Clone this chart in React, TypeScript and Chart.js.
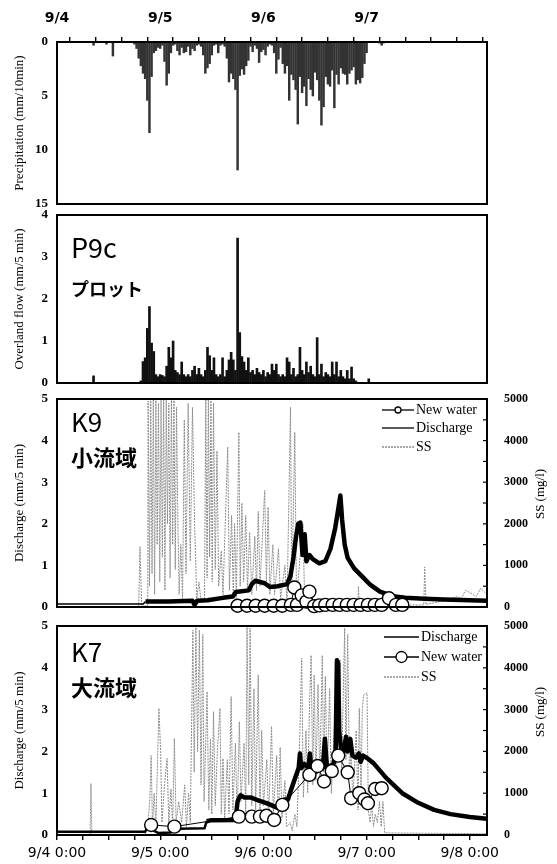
import React, { useEffect, useRef } from 'react';
import { Chart, registerables } from 'chart.js';

Chart.register(...registerables);

// ---------------- data ----------------
const topDayLabels = ['9/4', '9/5', '9/6', '9/7'];
const bottomDayLabels = ['9/4 0:00', '9/5 0:00', '9/6 0:00', '9/7 0:00', '9/8 0:00'];
const xTickHours = [0, 6, 12, 18, 24, 30, 36, 42, 48, 54, 60, 66, 72, 78, 84, 90, 96];
const xAxisMaxHours = 100;
const precipTicks = [0, 5, 10, 15];
const overlandTicks = [0, 1, 2, 3, 4];
const dischargeTicks = [0, 1, 2, 3, 4, 5];
const ssTicks = [0, 1000, 2000, 3000, 4000, 5000];
const ssMinorTicks = [500, 1000, 1500, 2000, 2500, 3000, 3500, 4000, 4500];

// Precipitation (mm/10min), half-hour samples from 9/4 08:00
const precipStartHour = 8;
const precipStepHours = 0.5;
const precipValues = [
  0, 0.3, 0, 0, 0, 0, 0, 0.2,
  0, 0, 1.3, 0, 0, 0, 0, 0,
  0, 0, 0, 0, 0.2, 0.6, 1.5, 2.2,
  2.9, 3.4, 5.4, 8.4, 3.2, 1.0, 0.8, 0.5,
  0.6, 0.3, 1.8, 4.0, 2.9, 1.0, 0.3, 0.2,
  0.8, 1.2, 0.5, 1.0, 0.9, 0.4, 1.2, 0.6,
  0.8, 0.3, 0.2, 0.4, 1.2, 2.9, 2.4, 2.0,
  1.2, 0.3, 0.2, 1.0, 0.3, 0.2, 0.4, 1.5,
  3.7, 2.9, 3.4, 4.4, 11.85, 3.1, 2.5, 3.0,
  2.2, 1.7, 0.4, 0.9, 0.3, 0.6, 1.9, 0.9,
  0.7, 1.2, 0.4, 0.2, 0.3, 1.0, 2.9, 1.6,
  0.5, 2.0, 2.9, 2.2, 5.4, 3.0, 3.5, 4.4,
  7.6, 3.2, 4.7, 4.1, 5.9, 3.4, 4.4, 5.0,
  2.8, 3.5, 5.4, 7.7, 6.0, 3.2, 3.9, 4.1,
  2.6, 6.1, 3.0, 3.9, 2.4, 2.9, 3.0, 3.9,
  2.9, 2.6, 2.3, 3.9, 3.5, 3.8, 3.3, 2.0,
  1.0, 0, 0, 0, 0, 0, 0.1, 0.3,
  0.1,
];

// Overland flow P9c (mm/5 min), half-hour samples from 9/4 08:00
const overlandStartHour = 8;
const overlandStepHours = 0.5;
const overlandValues = [
  0, 0.17, 0, 0, 0, 0, 0, 0,
  0, 0, 0, 0, 0, 0, 0, 0,
  0, 0, 0, 0, 0, 0, 0, 0.05,
  0.51, 0.6, 1.3, 1.82, 0.95, 0.75, 0.2, 0.15,
  0.2, 0.18, 0.15, 0.4, 0.85, 0.6, 1.0, 0.3,
  0.25, 0.2, 0.5, 0.2, 0.15, 0.2, 0.15, 0.3,
  0.4, 0.2, 0.35, 0.2, 0.15, 0.3, 0.85, 0.65,
  0.3, 0.6, 0.2, 0.15, 0.2, 0.6, 0.15, 0.3,
  0.55, 0.73, 0.55, 0.3, 3.45, 1.2, 0.63, 0.5,
  0.3, 0.6, 0.25, 0.3, 0.2, 0.35, 0.25, 0.2,
  0.3, 0.15, 0.25, 0.2, 0.45, 0.3, 0.45, 0.2,
  0.15, 0.2, 0.15, 0.6, 0.5, 0.2, 0.35, 0.15,
  0.2, 0.85, 0.3, 0.2, 0.5, 0.25, 0.4, 0.2,
  0.15, 1.08, 0.2, 0.45, 0.15, 0.25, 0.2, 0.15,
  0.5, 0.2, 0.5, 0.15, 0.3, 0.15, 0.1, 0.3,
  0.1, 0.38, 0.1, 0.05, 0, 0, 0, 0,
  0, 0.1, 0, 0, 0, 0, 0, 0,
];

// K9 [hour since 9/4 0:00, value]
const k9Discharge: [number, number][] = [
  [0, 0.07], [20, 0.07], [20.6, 0.13], [26, 0.13], [31.5, 0.15], [32, 0.05], [32.6, 0.15],
  [35, 0.16], [38.6, 0.22], [40.9, 0.25], [41.6, 0.36], [44.6, 0.4], [45.3, 0.55], [46.1, 0.63],
  [48.3, 0.57], [49.5, 0.48], [51.3, 0.5], [53.5, 0.55], [54.3, 0.75], [55, 1.2], [55.6, 1.7],
  [56.1, 2.0], [56.6, 2.03], [57.1, 1.25], [57.4, 1.45], [57.6, 1.75], [58, 1.1], [58.7, 1.25],
  [59.5, 1.15], [61, 1.05], [62.4, 1.1], [63.6, 1.4], [64.7, 1.9], [65.4, 2.35], [65.9, 2.68],
  [66.3, 2.1], [66.9, 1.5], [67.6, 1.18], [69.1, 0.93], [71, 0.73], [72.9, 0.53], [75.1, 0.37],
  [78.1, 0.26], [81, 0.22], [85.5, 0.2], [90, 0.18], [96, 0.16], [100, 0.15],
];
const k9NewWater: [number, number][] = [
  [42, 0.03], [44.2, 0.03], [46.2, 0.03], [48.3, 0.03], [50.4, 0.03], [52.4, 0.03], [54.4, 0.05],
  [55.2, 0.47], [55.8, 0.05], [56.9, 0.28], [58, 0.13], [58.7, 0.37], [59.8, 0.02], [61, 0.04],
  [62.4, 0.05], [64.1, 0.05], [65.7, 0.05], [67.4, 0.05], [69, 0.05], [70.6, 0.05], [72.3, 0.05],
  [73.9, 0.05], [75.5, 0.05], [77.2, 0.21], [78.8, 0.05], [80.3, 0.05],
];
const k9SS: [number, number][] = [
  [0, 10], [19, 10], [19.3, 1450], [19.7, 20], [21.1, 30], [21.2, 4950], [21.5, 500], [21.8, 5000],
  [22.1, 800], [22.4, 5000], [22.7, 300], [23, 5000], [23.3, 1500], [23.6, 4900], [23.9, 600],
  [24.2, 5000], [24.5, 1200], [24.8, 5000], [25.1, 400], [25.4, 5000], [25.7, 2000], [26, 4900],
  [26.3, 700], [26.6, 5000], [26.9, 1500], [27.2, 5000], [27.5, 900], [27.8, 4800], [28.1, 2150],
  [28.4, 300], [28.8, 1500], [29.2, 200], [29.6, 4500], [30, 800], [30.5, 4900], [31, 1100],
  [31.5, 4800], [32, 2000], [32.5, 200], [33, 600], [33.5, 150], [34.3, 200], [34.6, 5000],
  [34.9, 700], [35.2, 5000], [35.5, 1200], [35.8, 5000], [36.1, 600], [36.4, 4900], [36.8, 900],
  [37.2, 3750], [37.6, 500], [38.2, 1350], [38.6, 300], [39.7, 3850], [40.1, 400], [40.6, 2200],
  [41, 300], [41.3, 2000], [41.7, 200], [42.3, 4200], [42.6, 500], [43, 2500], [43.4, 600],
  [43.9, 2200], [44.3, 400], [44.8, 1800], [45.3, 300], [46, 1700], [46.4, 400], [46.8, 2300],
  [47.2, 500], [48.3, 2800], [48.7, 600], [49.1, 2400], [49.5, 300], [50.2, 1500], [50.6, 300],
  [51.5, 1400], [52, 200], [53, 1000], [53.5, 100], [54.3, 4800], [54.6, 300], [55.3, 4200],
  [55.7, 200], [57.2, 2000], [57.6, 100], [58.5, 200], [60, 50], [70, 60], [70.1, 500],
  [70.3, 40], [85.3, 50], [85.5, 960], [85.8, 60], [90, 150], [93, 250], [94, 200], [95, 400],
  [96, 350], [97.5, 250], [98.5, 450], [100, 300],
];

// K7 [hour since 9/4 0:00, value]
const k7Discharge: [number, number][] = [
  [0, 0.08], [20.5, 0.08], [21.2, 0.2], [22, 0.22], [22.6, 0.1], [23.5, 0.05], [26.5, 0.06],
  [27, 0.15], [27.6, 0.1], [28.2, 0.15], [34.3, 0.16], [34.8, 0.33], [35.7, 0.35], [41.5, 0.36],
  [42, 0.8], [42.3, 0.88], [42.7, 0.95], [43.5, 0.9], [45, 0.9], [47, 0.82], [49, 0.75],
  [51.3, 0.65], [52.4, 0.6], [52.9, 0.85], [53.7, 0.85], [54.5, 1.1], [55.5, 1.4], [56.2, 1.6],
  [56.5, 1.95], [56.8, 1.6], [57.5, 1.7], [58.5, 1.6], [58.8, 1.95], [59.2, 1.55], [60, 1.5],
  [61, 1.55], [61.8, 1.6], [62.3, 2.3], [62.8, 1.6], [63.5, 1.65], [64.3, 1.7], [64.8, 2.0],
  [65.1, 4.18], [65.4, 4.1], [65.6, 2.5], [66, 2.1], [66.7, 2.0], [67.2, 2.35], [67.6, 2.0],
  [68.2, 2.3], [68.7, 1.9], [69.5, 1.85], [70.2, 1.95], [70.6, 1.75], [71.2, 1.9], [72.1, 1.84],
  [73.6, 1.72], [76.6, 1.36], [80.3, 1.0], [84, 0.77], [87.7, 0.6], [91.5, 0.5], [96, 0.43],
  [100, 0.39],
];
const k7NewWater: [number, number][] = [
  [21.9, 0.24], [27.3, 0.2], [42.3, 0.44], [45.3, 0.44], [47.2, 0.44], [48.7, 0.46], [50.5, 0.36],
  [52.4, 0.72], [58.7, 1.44], [60.6, 1.65], [62.1, 1.28], [63.9, 1.53], [65.4, 1.9], [67.6, 1.5],
  [68.4, 0.88], [70.3, 1.0], [71.5, 0.85], [72.3, 0.76], [74, 1.1], [75.5, 1.12],
];
const k7SS: [number, number][] = [
  [0, 10], [7.7, 10], [7.9, 1230], [8.1, 10], [20.5, 10], [21.2, 300], [21.6, 900], [21.9, 1900],
  [22.2, 200], [22.6, 1000], [23, 200], [23.7, 3030], [24.1, 1990], [24.4, 300], [25, 1200],
  [25.6, 1830], [26, 300], [26.5, 1100], [26.9, 200], [27.3, 2310], [27.7, 300], [28.3, 800],
  [29, 300], [29.7, 1200], [30.1, 200], [30.6, 1000], [31, 300], [31.6, 4900], [31.9, 1500],
  [32.3, 5000], [32.7, 2000], [33.1, 4900], [33.5, 1200], [33.9, 4800], [34.2, 800], [34.9, 3430],
  [35.3, 600], [35.7, 2300], [36, 500], [36.4, 2950], [36.8, 700], [37.3, 2000], [37.9, 3030],
  [38.2, 500], [38.6, 1830], [39, 400], [39.6, 1800], [40, 500], [40.5, 3310], [40.9, 600],
  [41.5, 2200], [41.9, 300], [42.4, 2710], [42.8, 800], [43.5, 2200], [43.9, 500], [44.2, 5000],
  [44.6, 1200], [44.9, 4950], [45.3, 700], [45.8, 3500], [46.2, 600], [46.8, 3830], [47.2, 400],
  [47.6, 2500], [48, 700], [48.8, 1800], [49.2, 400], [49.9, 2600], [50.3, 500], [51.1, 1900],
  [51.5, 300], [51.9, 2100], [52.3, 400], [53, 1300], [53.4, 200], [54.2, 300], [54.7, 100],
  [55.3, 500], [55.8, 200], [56.5, 2500], [56.9, 4230], [57.3, 900], [57.9, 2500], [58.3, 1000],
  [58.7, 3000], [59.1, 4300], [59.5, 1200], [59.8, 3830], [60.2, 1300], [60.7, 3600], [61.1, 1300],
  [61.7, 4300], [62, 1500], [62.4, 3800], [62.8, 1200], [63.4, 3500], [63.8, 1000], [64.6, 2800],
  [65, 1400], [65.8, 4200], [66.2, 1600], [66.9, 4950], [67.2, 1800], [67.6, 4800], [68, 1500],
  [68.4, 2000], [68.8, 800], [69.6, 2500], [70, 600], [70.3, 3030], [70.7, 1000], [71, 3000],
  [71.3, 3350], [72.1, 3400], [72.4, 600], [72.8, 300], [73.2, 700], [73.6, 200], [74, 500],
  [74.5, 300], [75, 800], [75.4, 200], [75.8, 800], [76.2, 50], [100, 30],
];

// ---------------- layout ----------------
const W = 557;
const PLOT_LEFT = 57;
const PLOT_RIGHT = 487;
const SERIF = "'Liberation Serif', 'Times New Roman', serif";
const SANS = "'DejaVu Sans', 'Liberation Sans', sans-serif";
const JP = "'Noto Sans CJK JP', 'Noto Sans', sans-serif";

const seq = (start: number, step: number, values: number[]) =>
  values.map((v, i) => ({ x: start + i * step, y: v }));
const pairs = (arr: [number, number][]) => arr.map(([x, y]) => ({ x, y }));

// ---------------- plugins ----------------
const framePlugin = {
  id: 'frame',
  afterDraw(chart: any) {
    const { ctx, chartArea: a } = chart;
    ctx.save();
    ctx.strokeStyle = '#000';
    ctx.lineWidth = 2;
    ctx.strokeRect(a.left, a.top, a.right - a.left, a.bottom - a.top);
    ctx.restore();
  },
};

const innerTicksPlugin = {
  id: 'innerTicks',
  afterDraw(chart: any, _args: any, opts: any) {
    const items = (opts && opts.items) || [];
    const { ctx, chartArea: a } = chart;
    ctx.save();
    ctx.strokeStyle = '#000';
    ctx.lineWidth = 1.2;
    for (const it of items) {
      const s = chart.scales[it.scaleId];
      if (!s) continue;
      for (const v of it.values) {
        const y = s.getPixelForValue(v);
        const x0 = it.side === 'left' ? a.left : a.right;
        const dx = it.side === 'left' ? it.length : -it.length;
        ctx.beginPath();
        ctx.moveTo(x0, y);
        ctx.lineTo(x0 + dx, y);
        ctx.stroke();
      }
    }
    ctx.restore();
  },
};

const textNotesPlugin = {
  id: 'textNotes',
  afterDraw(chart: any, _args: any, opts: any) {
    const items = (opts && opts.items) || [];
    const ctx = chart.ctx;
    for (const it of items) {
      ctx.save();
      ctx.font = it.font;
      ctx.fillStyle = '#000';
      ctx.textAlign = it.align || 'left';
      ctx.textBaseline = it.baseline || 'alphabetic';
      ctx.translate(it.x, it.y);
      if (it.rotate) ctx.rotate(it.rotate);
      ctx.fillText(it.text, 0, 0);
      ctx.restore();
    }
  },
};

const seriesLegendPlugin = {
  id: 'seriesLegend',
  afterDraw(chart: any, _args: any, opts: any) {
    if (!opts || !opts.items) return;
    const ctx = chart.ctx;
    ctx.save();
    ctx.font = opts.font;
    ctx.textBaseline = 'middle';
    ctx.textAlign = 'left';
    for (const it of opts.items) {
      ctx.beginPath();
      ctx.lineWidth = it.width;
      ctx.strokeStyle = it.color;
      ctx.setLineDash(it.dash || []);
      ctx.moveTo(opts.x1, it.y);
      ctx.lineTo(opts.x2, it.y);
      ctx.stroke();
      ctx.setLineDash([]);
      if (it.marker) {
        ctx.beginPath();
        ctx.arc((opts.x1 + opts.x2) / 2, it.y, it.marker, 0, Math.PI * 2);
        ctx.fillStyle = '#fff';
        ctx.fill();
        ctx.lineWidth = 1.3;
        ctx.strokeStyle = '#000';
        ctx.stroke();
      }
      ctx.fillStyle = '#000';
      ctx.fillText(it.label, opts.textX, it.y);
    }
    ctx.restore();
  },
};

Chart.register(framePlugin, innerTicksPlugin, textNotesPlugin, seriesLegendPlugin);
Chart.defaults.font.family = SERIF;
Chart.defaults.color = '#000';

// ---------------- axis helpers ----------------
function leftAxis(min: number, max: number, ticksArr: number[], title: string, reverse = false) {
  return {
    type: 'linear',
    position: 'left',
    min,
    max,
    reverse,
    afterBuildTicks: (s: any) => {
      s.ticks = ticksArr.map((v) => ({ value: v }));
    },
    afterFit: (s: any) => {
      s.width = PLOT_LEFT;
    },
    ticks: {
      padding: 0,
      color: '#000',
      font: { family: SERIF, size: 13, weight: 'bold' },
      callback: (v: any) => String(v),
    },
    grid: { display: false, drawTicks: true, tickLength: 9 },
    border: { display: false },
    title: {
      display: true,
      text: title,
      color: '#000',
      font: { family: SERIF, size: 13 },
      padding: { top: 12, bottom: 0 },
    },
  };
}

function rightSSAxis() {
  return {
    type: 'linear',
    position: 'right',
    min: 0,
    max: 5000,
    afterBuildTicks: (s: any) => {
      s.ticks = ssTicks.map((v) => ({ value: v }));
    },
    afterFit: (s: any) => {
      s.width = W - PLOT_RIGHT;
    },
    ticks: {
      padding: 0,
      color: '#000',
      font: { family: SERIF, size: 12, weight: 'bold' },
      callback: (v: any) => String(v),
    },
    grid: { display: false, drawTicks: true, tickLength: 17 },
    border: { display: false },
  };
}

function hiddenX() {
  return { type: 'linear', min: 0, max: xAxisMaxHours, offset: false, display: false };
}

function dayAxis(position: 'top' | 'bottom', height: number, labels: string[], font: any, padding: number) {
  return {
    type: 'linear',
    position,
    min: 0,
    max: xAxisMaxHours,
    offset: false,
    afterBuildTicks: (s: any) => {
      s.ticks = xTickHours.map((v) => ({ value: v }));
    },
    afterFit: (s: any) => {
      s.height = height;
    },
    ticks: {
      autoSkip: false,
      maxRotation: 0,
      minRotation: 0,
      padding,
      color: '#000',
      font,
      callback: (v: any) => (v % 24 === 0 && labels[v / 24] !== undefined ? labels[v / 24] : ''),
    },
    grid: { display: true, drawOnChartArea: false, drawTicks: true, tickLength: 5, color: '#000', lineWidth: 1.4 },
    border: { display: false },
  };
}

const basePlugins = {
  legend: { display: false },
  tooltip: { enabled: false },
};

// ---------------- component ----------------
const C1 = { top: 0, height: 214 };
const C2 = { top: 204, height: 190 };
const C3 = { top: 390, height: 226 };
const C4 = { top: 612, height: 252 };

export default function App() {
  const r1 = useRef<HTMLCanvasElement>(null);
  const r2 = useRef<HTMLCanvasElement>(null);
  const r3 = useRef<HTMLCanvasElement>(null);
  const r4 = useRef<HTMLCanvasElement>(null);

  useEffect(() => {
    const charts: Chart[] = [];

    // Panel 1: precipitation
    charts.push(
      new Chart(r1.current as HTMLCanvasElement, {
        type: 'bar',
        data: {
          datasets: [
            {
              data: seq(precipStartHour, precipStepHours, precipValues),
              backgroundColor: '#333',
              borderWidth: 0,
              barThickness: 1.8,
            } as any,
          ],
        },
        options: {
          animation: false,
          responsive: false,
          events: [],
          layout: { autoPadding: false, padding: { left: 0, right: W - PLOT_RIGHT, top: 0, bottom: C1.height - 204 } },
          plugins: { ...basePlugins } as any,
          scales: {
            x: dayAxis('top', 42, topDayLabels, { family: SANS, size: 14, weight: 'bold' }, 10) as any,
            y: leftAxis(0, 15, precipTicks, 'Precipitation (mm/10min)', true) as any,
          },
        } as any,
      })
    );

    // Panel 2: overland flow
    charts.push(
      new Chart(r2.current as HTMLCanvasElement, {
        type: 'bar',
        data: {
          datasets: [
            {
              data: seq(overlandStartHour, overlandStepHours, overlandValues),
              backgroundColor: '#111',
              borderWidth: 0,
              barThickness: 2,
            } as any,
          ],
        },
        options: {
          animation: false,
          responsive: false,
          events: [],
          layout: { autoPadding: false, padding: { left: 0, right: W - PLOT_RIGHT, top: 215 - C2.top, bottom: C2.top + C2.height - 383 } },
          plugins: {
            ...basePlugins,
            textNotes: {
              items: [
                { text: 'P9c', x: 71, y: 258 - C2.top, font: `27px ${JP}` },
                { text: 'プロット', x: 71, y: 296 - C2.top, font: `bold 18px ${JP}` },
              ],
            },
          } as any,
          scales: {
            x: hiddenX() as any,
            y: leftAxis(0, 4, overlandTicks, 'Overland flow (mm/5 min)') as any,
          },
        } as any,
      })
    );

    // Panel 3: K9
    charts.push(
      new Chart(r3.current as HTMLCanvasElement, {
        type: 'line',
        data: {
          datasets: [
            {
              label: 'New water',
              data: pairs(k9NewWater),
              yAxisID: 'y',
              borderColor: '#000',
              borderWidth: 1,
              pointRadius: 6.5,
              pointBackgroundColor: '#fff',
              pointBorderColor: '#000',
              pointBorderWidth: 1.4,
              order: 0,
              clip: false,
            } as any,
            {
              label: 'Discharge',
              data: pairs(k9Discharge),
              yAxisID: 'y',
              borderColor: '#000',
              borderWidth: 4.5,
              borderJoinStyle: 'round',
              pointRadius: 0,
              order: 1,
              segment: { borderWidth: (c: any) => (c.p1.parsed.x <= 20.6 ? 1.5 : 4.5) },
            } as any,
            {
              label: 'SS',
              data: pairs(k9SS),
              yAxisID: 'y2',
              borderColor: '#8c8c8c',
              borderWidth: 1,
              borderDash: [2, 1],
              borderJoinStyle: 'bevel',
              pointRadius: 0,
              order: 2,
            } as any,
          ],
        },
        options: {
          animation: false,
          responsive: false,
          events: [],
          layout: { autoPadding: false, padding: { left: 0, right: 0, top: 399 - C3.top, bottom: C3.top + C3.height - 607 } },
          plugins: {
            ...basePlugins,
            innerTicks: { items: [{ scaleId: 'y2', values: ssMinorTicks, side: 'right', length: 4 }] },
            textNotes: {
              items: [
                { text: 'K9', x: 71, y: 432 - C3.top, font: `26px ${JP}` },
                { text: '小流域', x: 71, y: 466 - C3.top, font: `bold 22px ${JP}` },
                { text: 'SS (mg/l)', x: 541, y: 494 - C3.top, font: `13px ${SERIF}`, align: 'center', baseline: 'middle', rotate: -Math.PI / 2 },
              ],
            },
            seriesLegend: {
              x1: 382,
              x2: 414,
              textX: 416,
              font: `14px ${SERIF}`,
              items: [
                { label: 'New water', y: 410 - C3.top, width: 1.3, color: '#000', marker: 3 },
                { label: 'Discharge', y: 428 - C3.top, width: 1.3, color: '#000' },
                { label: 'SS', y: 447 - C3.top, width: 1, color: '#555', dash: [2, 1] },
              ],
            },
          } as any,
          scales: {
            x: hiddenX() as any,
            y: leftAxis(0, 5, dischargeTicks, 'Discharge (mm/5 min)') as any,
            y2: rightSSAxis() as any,
          },
        } as any,
      })
    );

    // Panel 4: K7
    charts.push(
      new Chart(r4.current as HTMLCanvasElement, {
        type: 'line',
        data: {
          datasets: [
            {
              label: 'New water',
              data: pairs(k7NewWater),
              yAxisID: 'y',
              borderColor: '#000',
              borderWidth: 1,
              pointRadius: 6.5,
              pointBackgroundColor: '#fff',
              pointBorderColor: '#000',
              pointBorderWidth: 1.4,
              order: 0,
              clip: false,
            } as any,
            {
              label: 'Discharge',
              data: pairs(k7Discharge),
              yAxisID: 'y',
              borderColor: '#000',
              borderWidth: 4.5,
              borderJoinStyle: 'round',
              pointRadius: 0,
              order: 1,
              segment: { borderWidth: (c: any) => (c.p1.parsed.x <= 34.8 ? 2.5 : 4.5) },
            } as any,
            {
              label: 'SS',
              data: pairs(k7SS),
              yAxisID: 'y2',
              borderColor: '#8c8c8c',
              borderWidth: 1,
              borderDash: [2, 1],
              borderJoinStyle: 'bevel',
              pointRadius: 0,
              order: 2,
            } as any,
          ],
        },
        options: {
          animation: false,
          responsive: false,
          events: [],
          layout: { autoPadding: false, padding: { left: 0, right: 0, top: 626 - C4.top, bottom: 0 } },
          plugins: {
            ...basePlugins,
            innerTicks: { items: [{ scaleId: 'y2', values: ssMinorTicks, side: 'right', length: 4 }] },
            textNotes: {
              items: [
                { text: 'K7', x: 71, y: 662 - C4.top, font: `26px ${JP}` },
                { text: '大流域', x: 71, y: 696 - C4.top, font: `bold 22px ${JP}` },
                { text: 'SS (mg/l)', x: 541, y: 712 - C4.top, font: `13px ${SERIF}`, align: 'center', baseline: 'middle', rotate: -Math.PI / 2 },
              ],
            },
            seriesLegend: {
              x1: 384,
              x2: 419,
              textX: 421,
              font: `14px ${SERIF}`,
              items: [
                { label: 'Discharge', y: 637 - C4.top, width: 1.3, color: '#000' },
                { label: 'New water', y: 657 - C4.top, width: 1.3, color: '#000', marker: 5.5 },
                { label: 'SS', y: 677 - C4.top, width: 1, color: '#555', dash: [2, 1] },
              ],
            },
          } as any,
          scales: {
            x: dayAxis('bottom', 29, bottomDayLabels, { family: SANS, size: 14 }, 5) as any,
            y: leftAxis(0, 5, dischargeTicks, 'Discharge (mm/5 min)') as any,
            y2: rightSSAxis() as any,
          },
        } as any,
      })
    );

    return () => {
      charts.forEach((c) => c.destroy());
    };
  }, []);

  const cs = (c: { top: number; height: number }) => ({
    position: 'absolute' as const,
    left: 0,
    top: c.top,
    width: W,
    height: c.height,
  });

  return (
    <div style={{ position: 'absolute', left: 0, top: 0, width: W, height: 864, background: '#fff' }}>
      <canvas ref={r1} width={W} height={C1.height} style={cs(C1)} />
      <canvas ref={r2} width={W} height={C2.height} style={cs(C2)} />
      <canvas ref={r3} width={W} height={C3.height} style={cs(C3)} />
      <canvas ref={r4} width={W} height={C4.height} style={cs(C4)} />
    </div>
  );
}
